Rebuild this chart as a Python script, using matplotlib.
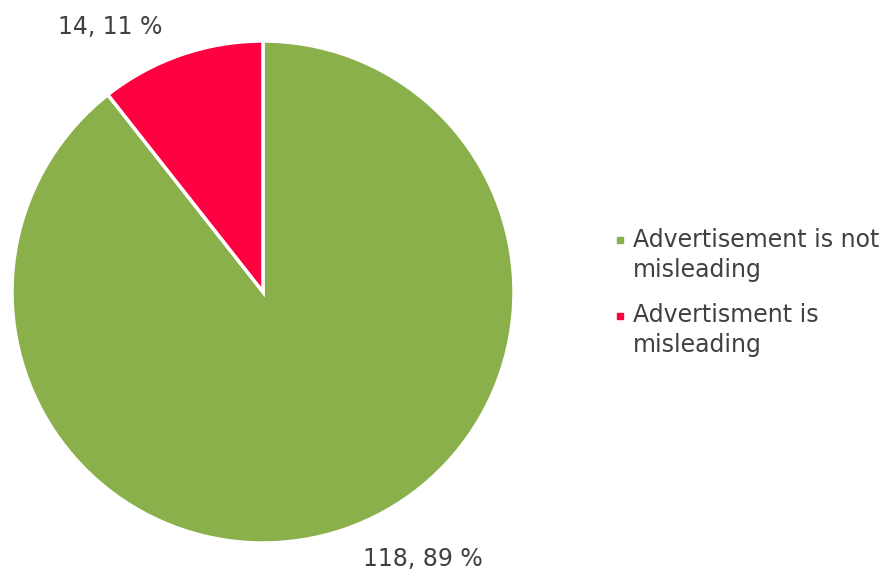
import matplotlib
matplotlib.use("Agg")
import matplotlib.pyplot as plt
from matplotlib.lines import Line2D

# survey answers
categories = ["Advertisement is not\nmisleading", "Advertisment is\nmisleading"]
counts = [118, 14]
percents = [89, 11]
colors = ["#8AB04C", "#FF0040"]
text_color = "#404040"

fig = plt.figure(figsize=(8.86, 5.71), dpi=100)
W, H = 886, 571
cx, cy, r = 263, 292, 251
ax = fig.add_axes([(cx - r) / W, (H - cy - r) / H, 2 * r / W, 2 * r / H])

wedges, _ = ax.pie(counts, colors=colors, startangle=90, counterclock=False,
                   radius=1, wedgeprops=dict(edgecolor="white", linewidth=2.5))
ax.set_xlim(-1, 1)
ax.set_ylim(-1, 1)
ax.set_aspect("equal")
ax.axis("off")

# data labels
fig.text(110 / W, 1 - 34 / H, f"{counts[1]}, {percents[1]} %", ha="center", va="baseline",
         fontsize=17, color=text_color)
fig.text(423 / W, 1 - 566 / H, f"{counts[0]}, {percents[0]} %", ha="center", va="baseline",
         fontsize=17, color=text_color)

# legend drawn by hand so the marker sits on the first text line
entry_y = [247, 322]
for label, c, y in zip(categories, colors, entry_y):
    fig.add_artist(Line2D([619.5 / W], [1 - (y - 6.5) / H], transform=fig.transFigure,
                          marker="s", markersize=5, linestyle="none",
                          markerfacecolor=c, markeredgecolor=c))
    for i, line in enumerate(label.split("\n")):
        fig.text(633 / W, 1 - (y + 30 * i) / H, line, ha="left", va="baseline",
                 fontsize=17, color=text_color)

fig.savefig("out.png", dpi=100)
